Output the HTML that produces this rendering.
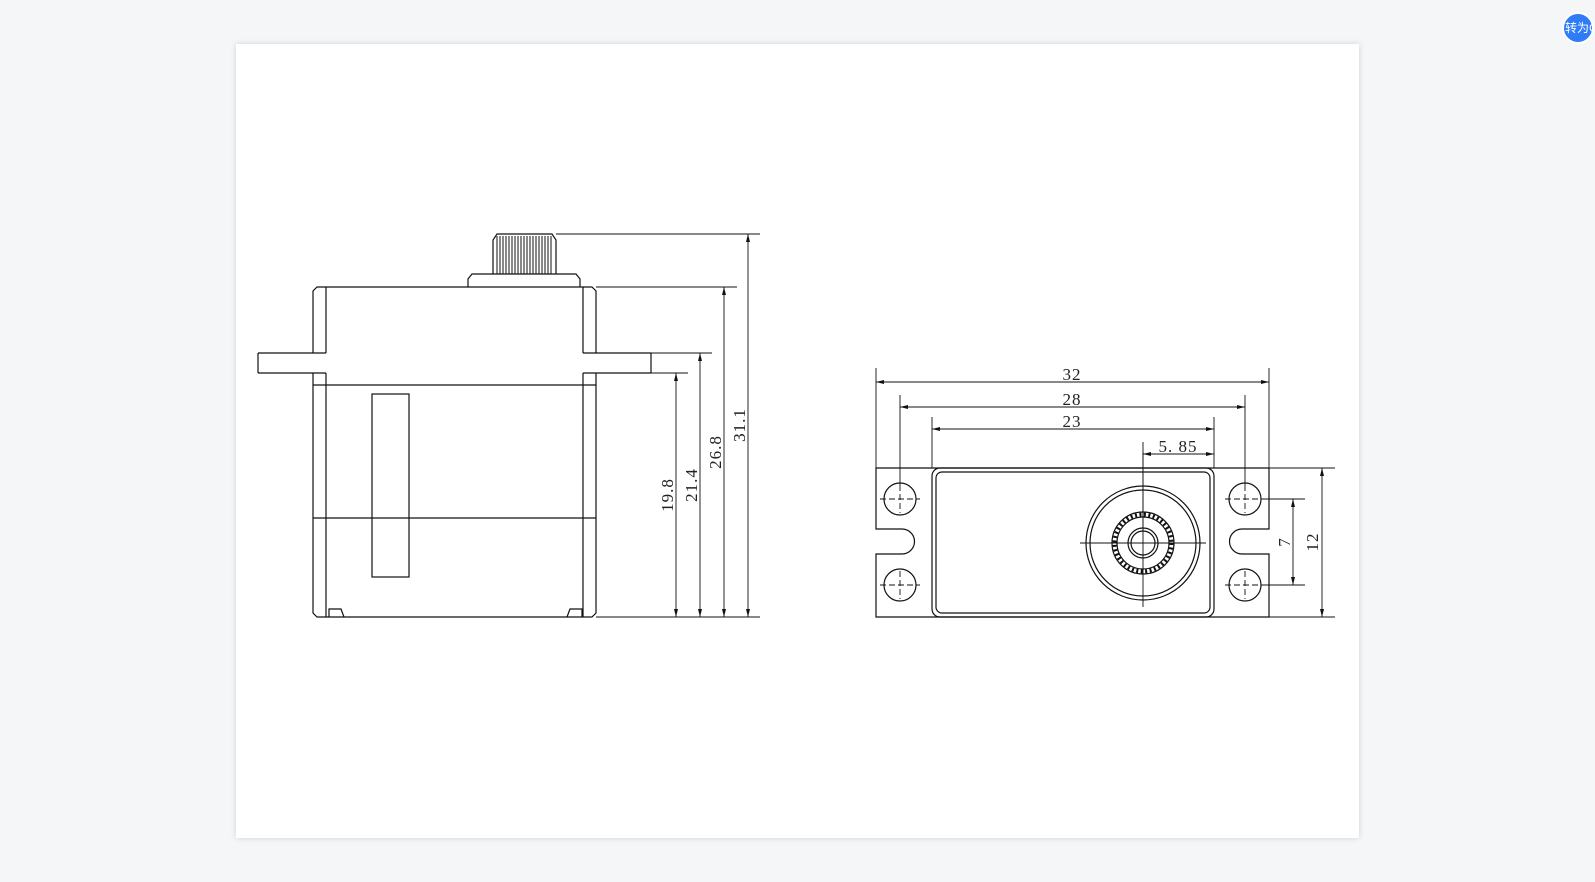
<!DOCTYPE html>
<html><head><meta charset="utf-8"><style>
html,body{margin:0;padding:0;background:#f5f6f8;width:1595px;height:882px;overflow:hidden}
.card{position:absolute;left:236px;top:44px;width:1123px;height:794px;background:#fff;box-shadow:0 0 6px rgba(0,0,0,.15)}
.btn{position:absolute;left:1562px;top:12px;width:28px;height:28px;border-radius:50%;background:#2f7cf6;border:2px solid #fff;color:#fff;font:12px "Liberation Sans","Noto Sans CJK SC",sans-serif;line-height:28px;overflow:hidden;white-space:nowrap;text-indent:1px}
svg{position:absolute;left:0;top:0}
text{font-family:"Liberation Serif",serif;font-size:17px;letter-spacing:1px;fill:#222}
</style></head><body>
<div class="card"></div>
<div class="btn">转为C</div>
<svg width="1595" height="882" fill="none" stroke="#111" stroke-width="1.2">
<g>
<path d="M493 274 V240 L497 234 H552 L556 240 V274"/>
<g stroke-width="1">
<path d="M497 236V274M500 236V274M503 236V274M506 236V274M509 236V274M512 236V274M515 236V274M518 236V274M521 236V274M524 236V274M527 236V274M530 236V274M533 236V274M536 236V274M539 236V274M542 236V274M545 236V274M548 236V274M551 236V274"/>
</g>
<path d="M468 287 V279 L472 274 H576 L580 279 V287"/>
<path d="M313 353 V291 L317 287 H592 L596 291 V353"/>
<path d="M313 373 V613 L317 617 H592 L596 613 V373"/>
<path d="M326 287 V353 M326 373 V617 M583 287 V353 M583 373 V617"/>
<path d="M258 353 H326 M258 373 H326 M258 353 V373"/>
<path d="M583 353 H651 M583 373 H651 M651 353 V373"/>
<path d="M313 385 H596 M313 518 H596"/>
<rect x="372" y="394" width="37" height="183"/>
<path d="M329 617 V609 H341 L344 617 M567 617 L570 609 H582 V617"/>
<g stroke-width="0.9">
<path d="M556 234 H760 M596 287 H737 M651 353 H712 M651 373 H688 M596 617 H760"/>
<path d="M676 373 V617 M700 353 V617 M724 287 V617 M748 234 V617"/>
</g>
<g fill="#111" stroke="none">
<path d="M676 373 l-2 8 h4z M676 617 l-2 -8 h4z M700 353 l-2 8 h4z M700 617 l-2 -8 h4z M724 287 l-2 8 h4z M724 617 l-2 -8 h4z M748 234 l-2 8 h4z M748 617 l-2 -8 h4z"/>
</g>
<text transform="translate(673,495) rotate(-90)" text-anchor="middle" stroke="none">19.8</text>
<text transform="translate(697,485) rotate(-90)" text-anchor="middle" stroke="none">21.4</text>
<text transform="translate(721,452) rotate(-90)" text-anchor="middle" stroke="none">26.8</text>
<text transform="translate(745,425) rotate(-90)" text-anchor="middle" stroke="none">31.1</text>
</g>
<g>
<path d="M876 468 H1269 V529 H1242 A12.5 12.5 0 0 0 1242 554 H1269 V617 H876 V554 H902 A12.5 12.5 0 0 0 902 529 H876 Z"/>
<rect x="932" y="468" width="282" height="149" rx="8"/>
<rect x="936" y="472" width="274" height="141" rx="6"/>
<circle cx="900" cy="499" r="16"/><circle cx="900" cy="585" r="16"/>
<circle cx="1245" cy="499" r="16"/><circle cx="1245" cy="585" r="16"/>
<g stroke-width="0.9" stroke-dasharray="6 3">
<path d="M880 499 H920 M900 485 V513 M880 585 H920 M900 571 V599 M1225 499 H1265 M1245 485 V513 M1225 585 H1265 M1245 571 V599"/>
</g>
<circle cx="1143" cy="543" r="57"/>
<circle cx="1143" cy="543" r="53"/>
<circle cx="1143" cy="543" r="31"/>
<circle cx="1143" cy="543" r="28.5" stroke-width="4" stroke-dasharray="2 2.5"/>
<circle cx="1143" cy="543" r="26"/>
<circle cx="1143" cy="543" r="15"/>
<circle cx="1143" cy="543" r="12"/>
<path d="M1080 543 H1206 M1143 452 V607" stroke-width="0.9"/>
<g stroke-width="0.9">
<path d="M876 368 V468 M1269 368 V468 M876 382 H1269"/>
<path d="M900 395 V485 M1245 395 V485 M900 407 H1245"/>
<path d="M932 417 V468 M1214 417 V468 M932 429 H1214"/>
<path d="M1143 442 V530 M1143 454 H1214"/>
<path d="M1265 499 H1305 M1265 585 H1305 M1293 499 V585"/>
<path d="M1269 468 H1335 M1269 617 H1335 M1322 468 V617"/>
</g>
<g fill="#111" stroke="none">
<path d="M876 382 l8 -2 v4z M1269 382 l-8 -2 v4z M900 407 l8 -2 v4z M1245 407 l-8 -2 v4z M932 429 l8 -2 v4z M1214 429 l-8 -2 v4z M1143 454 l8 -2 v4z M1214 454 l-8 -2 v4z M1293 499 l-2 8 h4z M1293 585 l-2 -8 h4z M1322 468 l-2 8 h4z M1322 617 l-2 -8 h4z"/>
</g>
<text x="1072" y="380" text-anchor="middle" stroke="none">32</text>
<text x="1072" y="405" text-anchor="middle" stroke="none">28</text>
<text x="1072" y="427" text-anchor="middle" stroke="none">23</text>
<text x="1178" y="452" text-anchor="middle" stroke="none">5. 85</text>
<text transform="translate(1290,542) rotate(-90)" text-anchor="middle" stroke="none">7</text>
<text transform="translate(1318,542) rotate(-90)" text-anchor="middle" stroke="none">12</text>
</g>
</svg>
</body></html>
